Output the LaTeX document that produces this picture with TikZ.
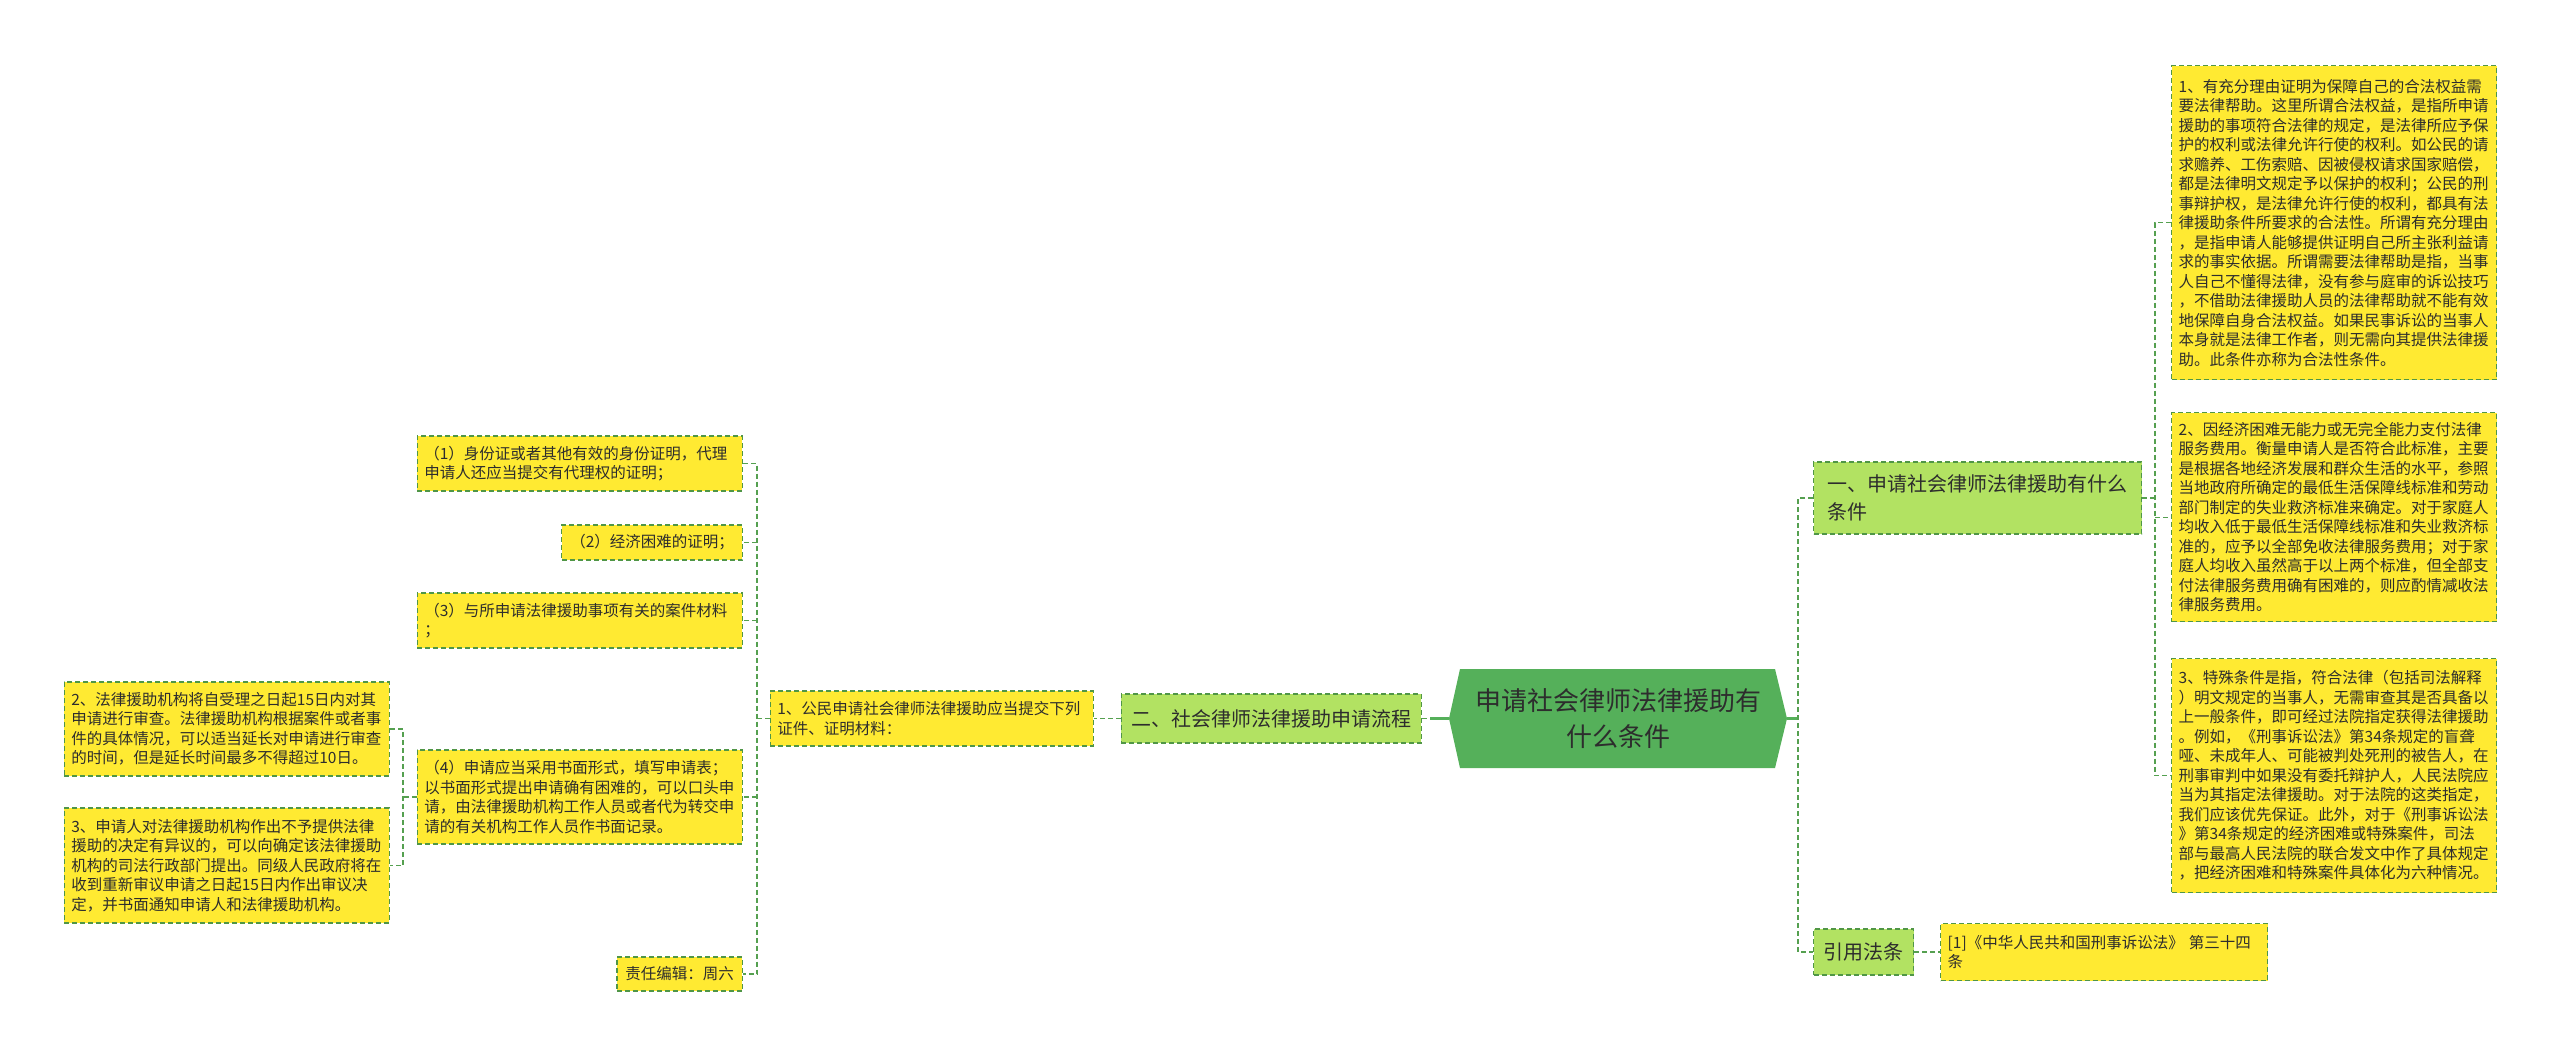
\documentclass[tikz,border=0pt]{standalone}
\usepackage{fontspec}
\setmainfont{Noto Sans CJK SC}
\definecolor{yel}{RGB}{255,234,50}
\definecolor{lgreen}{RGB}{178,226,98}
\definecolor{rootc}{RGB}{85,176,90}
\definecolor{bord}{RGB}{80,150,70}
\definecolor{lin}{RGB}{85,160,80}
\definecolor{txt}{RGB}{45,45,45}
\begin{document}
\begin{tikzpicture}[x=1pt,y=-1pt,
  every node/.style={text=txt, font=\fontsize{15.5}{19.5}\selectfont},
  ybox/.style={draw=bord, fill=yel, dash pattern=on 5pt off 3pt, line width=1.3pt,
    inner xsep=7pt, inner ysep=0pt, align=left, text width=#1},
  ybox/.default={311pt},
  yone/.style={draw=bord, fill=yel, dash pattern=on 5pt off 3pt, line width=1.3pt,
    inner xsep=8.5pt, inner ysep=0pt},
  gbox/.style={draw=bord, fill=lgreen, dash pattern=on 5pt off 3pt, line width=1.3pt,
    inner xsep=10pt, inner ysep=0pt, align=left, font=\fontsize{20}{28}\selectfont},
  conn/.style={draw=lin, dash pattern=on 5pt off 3pt, line width=1.3pt},
  solidc/.style={draw=rootc, line width=3pt}
]
\useasboundingbox (0,0) rectangle (2560,1058);

% root
\fill[rootc] (1460,669) -- (1775,669) -- (1787,718.5) -- (1775,768) -- (1460,768) -- (1449,718.5) -- cycle;
\node[font=\fontsize{26}{36}\selectfont, align=center, inner sep=0pt] (root) at (1618,718.5) {申请社会律师法律援助有\\什么条件};
\coordinate (rootL) at (1449,718.5);
\coordinate (rootR) at (1787,718.5);

% right branch
\node[gbox, anchor=west, text width=300pt, inner xsep=14pt, minimum height=72pt] (a) at (1813,498) {一、申请社会律师法律援助有什么\\条件};
\node[gbox, anchor=west, minimum height=46pt] (b) at (1813,952) {引用法条};
\node[ybox={313pt}, anchor=west, minimum height=57pt] (b1) at (1940,952) {[1]《中华人民共和国刑事诉讼法》 第三十四\\条};

\node[ybox, anchor=north west, minimum height=314pt] (a1) at (2171,65) {1、有充分理由证明为保障自己的合法权益需\\要法律帮助。这里所谓合法权益，是指所申请\\援助的事项符合法律的规定，是法律所应予保\\护的权利或法律允许行使的权利。如公民的请\\求赡养、工伤索赔、因被侵权请求国家赔偿，\\都是法律明文规定予以保护的权利；公民的刑\\事辩护权，是法律允许行使的权利，都具有法\\律援助条件所要求的合法性。所谓有充分理由\\，是指申请人能够提供证明自己所主张利益请\\求的事实依据。所谓需要法律帮助是指，当事\\人自己不懂得法律，没有参与庭审的诉讼技巧\\，不借助法律援助人员的法律帮助就不能有效\\地保障自身合法权益。如果民事诉讼的当事人\\本身就是法律工作者，则无需向其提供法律援\\助。此条件亦称为合法性条件。};
\node[ybox, anchor=north west, minimum height=209pt] (a2) at (2171,412) {2、因经济困难无能力或无完全能力支付法律\\服务费用。衡量申请人是否符合此标准，主要\\是根据各地经济发展和群众生活的水平，参照\\当地政府所确定的最低生活保障线标准和劳动\\部门制定的失业救济标准来确定。对于家庭人\\均收入低于最低生活保障线标准和失业救济标\\准的，应予以全部免收法律服务费用；对于家\\庭人均收入虽然高于以上两个标准，但全部支\\付法律服务费用确有困难的，则应酌情减收法\\律服务费用。};
\node[ybox, anchor=north west, minimum height=234pt] (a3) at (2171,658) {3、特殊条件是指，符合法律（包括司法解释\\）明文规定的当事人，无需审查其是否具备以\\上一般条件，即可经过法院指定获得法律援助\\。例如，《刑事诉讼法》第34条规定的盲聋\\哑、未成年人、可能被判处死刑的被告人，在\\刑事审判中如果没有委托辩护人，人民法院应\\当为其指定法律援助。对于法院的这类指定，\\我们应该优先保证。此外，对于《刑事诉讼法\\》第34条规定的经济困难或特殊案件，司法\\部与最高人民法院的联合发文中作了具体规定\\，把经济困难和特殊案件具体化为六种情况。};

\coordinate (busR) at (1798,718.5);
\coordinate (busA) at (2155,498);
\draw[solidc] (rootR) -- (busR);
\draw[conn] (a.west) -- (a.west -| busR) |- (b.west);
\draw[conn] (b.east) -- (b1.west);
\draw[conn] (a.east) -- (busA);
\draw[conn] (a1.west) -- (a1.west -| busA) |- (a3.west);
\draw[conn] (busA |- a2.west) -- (a2.west);

% left branch
\node[gbox, anchor=east, minimum height=49pt] (c) at (1422,718.5) {二、社会律师法律援助申请流程};
\node[ybox={309pt}, anchor=east, minimum height=55pt] (c1) at (1094,718.5) {1、公民申请社会律师法律援助应当提交下列\\证件、证明材料：};

\node[ybox, anchor=east, minimum height=55pt] (p1) at (743,463.5) {（1）身份证或者其他有效的身份证明，代理\\申请人还应当提交有代理权的证明；};
\node[yone, anchor=east, minimum height=35pt] (p2) at (743,542.5) {（2）经济困难的证明；};
\node[ybox, anchor=east, minimum height=55pt] (p3) at (743,620.5) {（3）与所申请法律援助事项有关的案件材料\\；};
\node[ybox, anchor=east, minimum height=94pt] (p4) at (743,797) {（4）申请应当采用书面形式，填写申请表；\\以书面形式提出申请确有困难的，可以口头申\\请，由法律援助机构工作人员或者代为转交申\\请的有关机构工作人员作书面记录。};
\node[yone, anchor=east, minimum height=34pt] (p5) at (743,974) {责任编辑：周六};

\node[ybox, anchor=east, minimum height=94pt] (q1) at (390,729) {2、法律援助机构将自受理之日起15日内对其\\申请进行审查。法律援助机构根据案件或者事\\件的具体情况，可以适当延长对申请进行审查\\的时间，但是延长时间最多不得超过10日。};
\node[ybox, anchor=east, minimum height=115pt] (q2) at (390,865.5) {3、申请人对法律援助机构作出不予提供法律\\援助的决定有异议的，可以向确定该法律援助\\机构的司法行政部门提出。同级人民政府将在\\收到重新审议申请之日起15日内作出审议决\\定，并书面通知申请人和法律援助机构。};

\coordinate (rootLs) at (1430,718.5);
\coordinate (busC) at (757,718.5);
\coordinate (busD) at (403,797);
\draw[conn] (c.east) -- (rootLs);
\draw[solidc] (rootLs) -- (rootL);
\draw[conn] (c.west) -- (c1.east);
\draw[conn] (c1.west) -- (busC);
\draw[conn] (p1.east) -- (p1.east -| busC) |- (p5.east);
\draw[conn] (busC |- p2.east) -- (p2.east);
\draw[conn] (busC |- p3.east) -- (p3.east);
\draw[conn] (busC |- p4.east) -- (p4.east);
\draw[conn] (p4.west) -- (busD);
\draw[conn] (q1.east) -- (q1.east -| busD) |- (q2.east);
\end{tikzpicture}
\end{document}
